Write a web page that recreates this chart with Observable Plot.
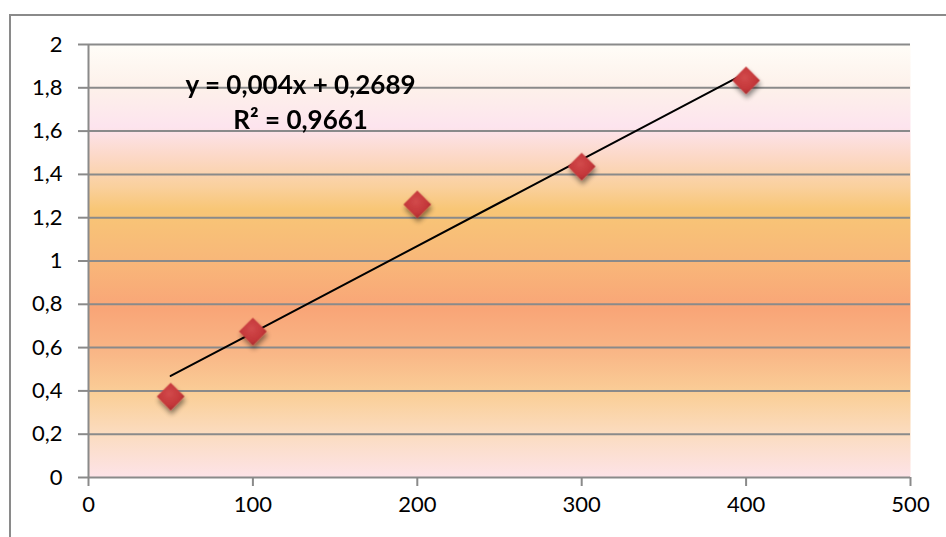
<!DOCTYPE html>
<html>
<head>
<meta charset="utf-8">
<script src="https://cdn.jsdelivr.net/npm/d3@7"></script>
<script src="https://cdn.jsdelivr.net/npm/@observablehq/plot@0.6"></script>
<style>
  html, body { margin: 0; padding: 0; background: #fff; overflow: hidden; }
  #wrap { position: relative; width: 946px; height: 537px; }
  #frame { position: absolute; left: 9px; top: 14px; width: 960px; height: 560px;
           border-top: 2px solid #8a8a8a; border-left: 2px solid #8a8a8a; box-sizing: border-box; }
  #chart { position: absolute; left: 0; top: 0; }
</style>
</head>
<body>
<div id="wrap"><div id="frame"></div><div id="chart"></div></div>
<script>
// Data
const xValues = [50, 100, 200, 300, 400];
const yValues = [0.374, 0.674, 1.261, 1.436, 1.834];
const xTicks = [0, 100, 200, 300, 400, 500];
const yTicks = [0, 0.2, 0.4, 0.6, 0.8, 1, 1.2, 1.4, 1.6, 1.8, 2];
const yTickLabels = ["0", "0,2", "0,4", "0,6", "0,8", "1", "1,2", "1,4", "1,6", "1,8", "2"];
const trendSlope = 0.004;
const trendIntercept = 0.2689;
const trendRange = [50, 400];
const equationLines = ["y = 0,004x + 0,2689", "R² = 0,9661"];

const points = xValues.map((x, i) => ({x, y: yValues[i]}));
const trend = trendRange.map(x => ({x, y: trendSlope * x + trendIntercept}));
const labelOf = new Map(yTicks.map((t, i) => [t, yTickLabels[i]]));

const NS = "http://www.w3.org/2000/svg";
function defs() {
  const d = document.createElementNS(NS, "defs");
  d.innerHTML = `
    <linearGradient id="bg" x1="0" y1="0" x2="0" y2="1">
      <stop offset="0" stop-color="#fffdf8"/>
      <stop offset="0.10" stop-color="#fdf1ea"/>
      <stop offset="0.19" stop-color="#fde4ee"/>
      <stop offset="0.26" stop-color="#fcd8c6"/>
      <stop offset="0.33" stop-color="#fad09c"/>
      <stop offset="0.38" stop-color="#f8c676"/>
      <stop offset="0.50" stop-color="#f8b779"/>
      <stop offset="0.61" stop-color="#f9a577"/>
      <stop offset="0.71" stop-color="#f9b686"/>
      <stop offset="0.81" stop-color="#facf98"/>
      <stop offset="0.90" stop-color="#fbdcc0"/>
      <stop offset="1" stop-color="#fde3e8"/>
    </linearGradient>
    <radialGradient id="dg" cx="0.45" cy="0.4" r="0.6">
      <stop offset="0" stop-color="#d24a4b"/>
      <stop offset="0.7" stop-color="#c4373a"/>
      <stop offset="1" stop-color="#a82a2e"/>
    </radialGradient>
    <filter id="shadow" x="-50%" y="-50%" width="200%" height="200%">
      <feGaussianBlur in="SourceAlpha" stdDeviation="2.5"/>
      <feOffset dx="1" dy="4" result="b"/>
      <feComponentTransfer><feFuncA type="linear" slope="0.45"/></feComponentTransfer>
      <feMerge><feMergeNode/><feMergeNode in="SourceGraphic"/></feMerge>
    </filter>`;
  return d;
}

const gray = "#8a8a8a";
const chart = Plot.plot({
  width: 946,
  height: 537,
  marginLeft: 88,
  marginRight: 36,
  marginTop: 44,
  marginBottom: 60,
  style: {fontFamily: "Lato, 'Open Sans', sans-serif", fontSize: "21px", color: "#000", background: "transparent", overflow: "visible"},
  x: {domain: [0, 500]},
  y: {domain: [0, 2]},
  marks: [
    defs,
    Plot.frame({fill: "url(#bg)", stroke: "none"}),
    Plot.ruleY(yTicks, {stroke: gray, strokeWidth: 2}),
    Plot.ruleX([0], {stroke: gray, strokeWidth: 2}),
    Plot.axisY({ticks: yTicks, tickFormat: d => labelOf.get(d), tickSize: 10, tickPadding: 16, stroke: gray, strokeWidth: 2, label: null, fontSize: 22}),
    Plot.axisX({ticks: xTicks, tickSize: 9, tickPadding: 10, stroke: gray, strokeWidth: 2, label: null, fontSize: 22}),
    Plot.line(trend, {x: "x", y: "y", stroke: "#000", strokeWidth: 2}),
    Plot.dot(points, {x: "x", y: "y", symbol: "diamond2", r: 12.5, fill: "url(#dg)", stroke: "none"}),
    Plot.text([equationLines[0]], {x: 129, y: 1.811, text: d => d, fontSize: 26, fontWeight: "bold", fill: "#000"}),
    Plot.text([equationLines[1]], {x: 129, y: 1.649, text: d => d, fontSize: 26, fontWeight: "bold", fill: "#000"})
  ]
});
const dotG = chart.querySelector('g[aria-label="dot"]');
if (dotG) dotG.setAttribute("filter", "url(#shadow)");
document.getElementById("chart").appendChild(chart);
</script>
</body>
</html>
